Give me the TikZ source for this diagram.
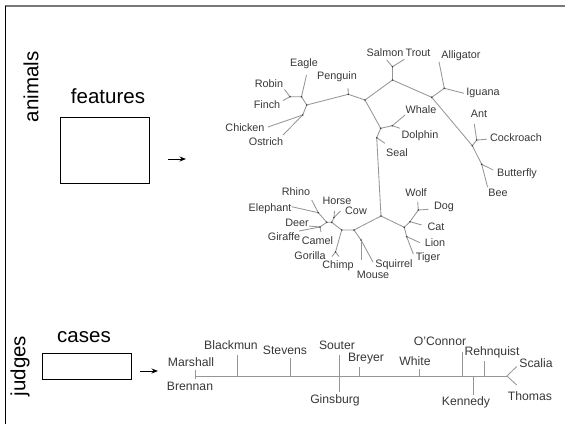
\documentclass[tikz,border=0pt]{standalone}
\usepackage{fontspec}
\setmainfont{Liberation Sans}
\usetikzlibrary{arrows.meta}
\definecolor{branch}{RGB}{150,150,150}
\definecolor{leaftext}{RGB}{55,55,55}
\definecolor{frameline}{RGB}{120,120,120}

\begin{document}
\begin{tikzpicture}[x=1pt, y=-1pt,
    biglabel/.style={font=\fontsize{20.5}{24}\selectfont, inner sep=0pt},
    leaf/.style={font=\fontsize{10.8}{12}\selectfont, text=leaftext, inner sep=0pt},
    judge/.style={font=\fontsize{12.2}{14}\selectfont, text=leaftext, inner sep=0pt},
    databox/.style={draw, line width=0.9pt, inner sep=0pt},
    arrow/.style={-{Stealth[length=6.5pt, width=5pt]}, line width=1pt},
    edge/.style={draw=branch, line width=0.85pt},
    joint/.style={fill=black!75}
]
    \useasboundingbox (0,0) rectangle (565,424);

    % Frame
    \draw[frameline, line width=1.8pt] (5,5.6) -- (565,5.6);
    \draw[black, line width=1.4pt] (5.7,5.6) -- (5.7,424);

    % Animals by features
    \node[biglabel, rotate=90] (animals) at (31,87) {animals};
    \node[biglabel] (features) at (108,96) {features};
    \node[databox, minimum width=89pt, minimum height=66pt] (animbox) at (104.5,150) {};
    \coordinate (animS) at (168,159);
    \coordinate (animE) at (186,159);
    \draw[arrow] (animS) -- (animE);

    % Judges by cases
    \node[biglabel, rotate=90] (judges) at (20,366) {judges};
    \node[biglabel] (cases) at (84,337.5) {cases};
    \node[databox, minimum width=89pt, minimum height=26pt] (judgebox) at (86.5,366) {};
    \coordinate (judgeS) at (140,371);
    \coordinate (judgeE) at (158,371);
    \draw[arrow] (judgeS) -- (judgeE);

    % Tree junctions
    \coordinate (root) at (365,100);
    \coordinate (penguinJ) at (348.3,94.3);
    \coordinate (birdJ) at (306.7,105);
    \coordinate (eagleJ) at (301.5,96.7);
    \coordinate (robinJ) at (290,96.7);
    \coordinate (chickJ) at (302.7,115);
    \coordinate (fishJ) at (392.5,80);
    \coordinate (salmonJ) at (392.5,66.7);
    \coordinate (reptJ) at (431.7,97.3);
    \coordinate (lizardJ) at (444.3,88.3);
    \coordinate (insectJ) at (472.3,145.7);
    \coordinate (antJ) at (476.7,140);
    \coordinate (flyJ) at (481.7,164.3);
    \coordinate (seaJ) at (380.7,128.3);
    \coordinate (whaleJ) at (392.3,125.7);
    \coordinate (sealJ) at (376.7,137.7);
    \coordinate (landJ) at (381,216);
    \coordinate (carnJ) at (404.3,227.3);
    \coordinate (catJ) at (410,221.7);
    \coordinate (dogJ) at (418.3,210);
    \coordinate (lionJ) at (406.7,236.7);
    \coordinate (rodentJ) at (354,230);
    \coordinate (mouseJ) at (361,240);
    \coordinate (primJ) at (341.7,230);
    \coordinate (apeJ) at (335.5,252);
    \coordinate (hoofJ) at (331.7,222.3);
    \coordinate (horseJ) at (334,217.5);
    \coordinate (bigJ) at (326.7,222.3);
    \coordinate (rhinoJ) at (318.3,212.7);
    \coordinate (deerJ) at (320,227);

    % Leaf tips
    \coordinate (eagleT) at (306.5,75);
    \coordinate (robinT) at (284.5,89.5);
    \coordinate (finchT) at (283,100.5);
    \coordinate (chickenT) at (268,127);
    \coordinate (ostrichT) at (283,135);
    \coordinate (penguinT) at (348,88);
    \coordinate (salmonT) at (386.7,60);
    \coordinate (troutT) at (404.3,59.3);
    \coordinate (alligatorT) at (439,61.7);
    \coordinate (iguanaT) at (464,93.3);
    \coordinate (antT) at (474.3,124);
    \coordinate (cockroachT) at (486.7,139.3);
    \coordinate (butterflyT) at (493.3,170);
    \coordinate (beeT) at (487.5,187);
    \coordinate (whaleT) at (405,115);
    \coordinate (dolphinT) at (400,128.3);
    \coordinate (sealT) at (385,143.3);
    \coordinate (wolfT) at (417.7,201.7);
    \coordinate (dogT) at (428.3,209.3);
    \coordinate (catT) at (421.7,225);
    \coordinate (lionT) at (420,242.7);
    \coordinate (tigerT) at (413.3,254);
    \coordinate (mouseT) at (361,260);
    \coordinate (squirrelT) at (373,262);
    \coordinate (gorillaT) at (332,256.5);
    \coordinate (chimpT) at (339,256.5);
    \coordinate (horseT) at (334.5,211);
    \coordinate (cowT) at (340.5,211);
    \coordinate (rhinoT) at (311.7,200);
    \coordinate (elephantT) at (291.7,206.7);
    \coordinate (deerT) at (309,226);
    \coordinate (giraffeT) at (299,231);
    \coordinate (camelT) at (321,232);

    % Tree branches
    \draw[edge] (birdJ) -- (penguinJ) -- (root) -- (fishJ) -- (reptJ) -- (insectJ);
    \draw[edge] (root) -- (seaJ) -- (sealJ) -- (landJ) -- (carnJ);
    \draw[edge] (landJ) -- (rodentJ) -- (primJ) -- (hoofJ) -- (bigJ);
    \draw[edge] (birdJ) -- (eagleJ) -- (robinJ);
    \draw[edge] (birdJ) -- (chickJ);
    \draw[edge] (fishJ) -- (salmonJ);
    \draw[edge] (reptJ) -- (lizardJ);
    \draw[edge] (insectJ) -- (antJ);
    \draw[edge] (insectJ) -- (flyJ);
    \draw[edge] (seaJ) -- (whaleJ);
    \draw[edge] (carnJ) -- (catJ) -- (dogJ);
    \draw[edge] (carnJ) -- (lionJ);
    \draw[edge] (rodentJ) -- (mouseJ);
    \draw[edge] (primJ) -- (apeJ);
    \draw[edge] (hoofJ) -- (horseJ);
    \draw[edge] (bigJ) -- (rhinoJ);
    \draw[edge] (bigJ) -- (deerJ);

    % Leaf branches
    \draw[edge] (eagleJ) -- (eagleT);
    \draw[edge] (robinJ) -- (robinT);
    \draw[edge] (robinJ) -- (finchT);
    \draw[edge] (chickJ) -- (chickenT);
    \draw[edge] (chickJ) -- (ostrichT);
    \draw[edge] (penguinJ) -- (penguinT);
    \draw[edge] (salmonJ) -- (salmonT);
    \draw[edge] (salmonJ) -- (troutT);
    \draw[edge] (lizardJ) -- (alligatorT);
    \draw[edge] (lizardJ) -- (iguanaT);
    \draw[edge] (antJ) -- (antT);
    \draw[edge] (antJ) -- (cockroachT);
    \draw[edge] (flyJ) -- (butterflyT);
    \draw[edge] (flyJ) -- (beeT);
    \draw[edge] (whaleJ) -- (whaleT);
    \draw[edge] (whaleJ) -- (dolphinT);
    \draw[edge] (sealJ) -- (sealT);
    \draw[edge] (dogJ) -- (wolfT);
    \draw[edge] (dogJ) -- (dogT);
    \draw[edge] (catJ) -- (catT);
    \draw[edge] (lionJ) -- (lionT);
    \draw[edge] (lionJ) -- (tigerT);
    \draw[edge] (mouseJ) -- (mouseT);
    \draw[edge] (mouseJ) -- (squirrelT);
    \draw[edge] (apeJ) -- (gorillaT);
    \draw[edge] (apeJ) -- (chimpT);
    \draw[edge] (horseJ) -- (horseT);
    \draw[edge] (horseJ) -- (cowT);
    \draw[edge] (rhinoJ) -- (rhinoT);
    \draw[edge] (rhinoJ) -- (elephantT);
    \draw[edge] (deerJ) -- (deerT);
    \draw[edge] (deerJ) -- (giraffeT);
    \draw[edge] (deerJ) -- (camelT);

    % Junction dots
    \foreach \j in {root, penguinJ, birdJ, eagleJ, robinJ, chickJ, fishJ, salmonJ,
        reptJ, lizardJ, insectJ, antJ, flyJ, seaJ, whaleJ, sealJ, landJ, carnJ,
        catJ, dogJ, lionJ, rodentJ, mouseJ, primJ, apeJ, hoofJ, horseJ, bigJ,
        rhinoJ, deerJ}
        \fill[joint] (\j) circle (0.9);

    % Animal labels
    \node[leaf] (eagle) at (304,64) {Eagle};
    \node[leaf] (penguin) at (337,77) {Penguin};
    \node[leaf] (robin) at (269,84) {Robin};
    \node[leaf] (finch) at (267,105) {Finch};
    \node[leaf] (chicken) at (245,128) {Chicken};
    \node[leaf] (ostrich) at (266,142) {Ostrich};
    \node[leaf] (salmon) at (385,53) {Salmon};
    \node[leaf] (trout) at (418,53) {Trout};
    \node[leaf] (alligator) at (461,56) {Alligator};
    \node[leaf] (iguana) at (483,93) {Iguana};
    \node[leaf] (whale) at (421,110) {Whale};
    \node[leaf] (dolphin) at (420,136) {Dolphin};
    \node[leaf] (seal) at (397,153) {Seal};
    \node[leaf] (ant) at (479,114) {Ant};
    \node[leaf] (cockroach) at (516,138) {Cockroach};
    \node[leaf] (butterfly) at (517,174) {Butterfly};
    \node[leaf] (bee) at (498,193) {Bee};
    \node[leaf] (wolf) at (416,193) {Wolf};
    \node[leaf] (dog) at (444,207) {Dog};
    \node[leaf] (cat) at (436,227) {Cat};
    \node[leaf] (lion) at (435,243) {Lion};
    \node[leaf] (tiger) at (428,258) {Tiger};
    \node[leaf] (squirrel) at (394,265) {Squirrel};
    \node[leaf] (mouse) at (373,275) {Mouse};
    \node[leaf] (chimp) at (338,266) {Chimp};
    \node[leaf] (gorilla) at (310,256) {Gorilla};
    \node[leaf] (camel) at (317.5,241) {Camel};
    \node[leaf] (giraffe) at (284,237) {Giraffe};
    \node[leaf] (deer) at (297,223) {Deer};
    \node[leaf] (elephant) at (270,209) {Elephant};
    \node[leaf] (rhino) at (296,192) {Rhino};
    \node[leaf] (horse) at (337,201) {Horse};
    \node[leaf] (cow) at (356,211) {Cow};

    % Judges axis
    \coordinate (axisL) at (195,376);
    \coordinate (axisR) at (507,376);
    \coordinate (marshallT) at (195,370);
    \coordinate (brennanT) at (195,378.5);
    \coordinate (blackmunT) at (237,355);
    \coordinate (stevensT) at (290,358);
    \coordinate (souterT) at (339,355);
    \coordinate (ginsburgT) at (339,392);
    \coordinate (breyerT) at (359,367);
    \coordinate (whiteT) at (419,369);
    \coordinate (oconnorT) at (462,352);
    \coordinate (kennedyT) at (473,395);
    \coordinate (rehnquistT) at (484,361);
    \coordinate (scaliaT) at (516.7,366.5);
    \coordinate (thomasT) at (516.7,385);

    \draw[edge] (axisL) -- (axisR);
    \draw[edge] (marshallT) -- (brennanT);
    \draw[edge] (souterT) -- (ginsburgT);
    \foreach \t in {blackmunT, stevensT, breyerT, whiteT, oconnorT, kennedyT, rehnquistT}
        \draw[edge] (\t) -- (\t |- axisL);
    \draw[edge] (scaliaT) -- (axisR) -- (thomasT);

    % Judge labels
    \node[judge] (marshall) at (191,362) {Marshall};
    \node[judge] (brennan) at (190,386) {Brennan};
    \node[judge] (blackmun) at (231,345) {Blackmun};
    \node[judge] (stevens) at (285,350) {Stevens};
    \node[judge] (souter) at (337,345) {Souter};
    \node[judge] (ginsburg) at (335,400.5) {Ginsburg};
    \node[judge] (breyer) at (366,359) {Breyer};
    \node[judge] (white) at (415,361) {White};
    \node[judge] (oconnor) at (440,341) {O'Connor};
    \node[judge] (kennedy) at (466,402) {Kennedy};
    \node[judge] (rehnquist) at (492,352.5) {Rehnquist};
    \node[judge] (scalia) at (536,363) {Scalia};
    \node[judge] (thomas) at (530,396) {Thomas};
\end{tikzpicture}
\end{document}
